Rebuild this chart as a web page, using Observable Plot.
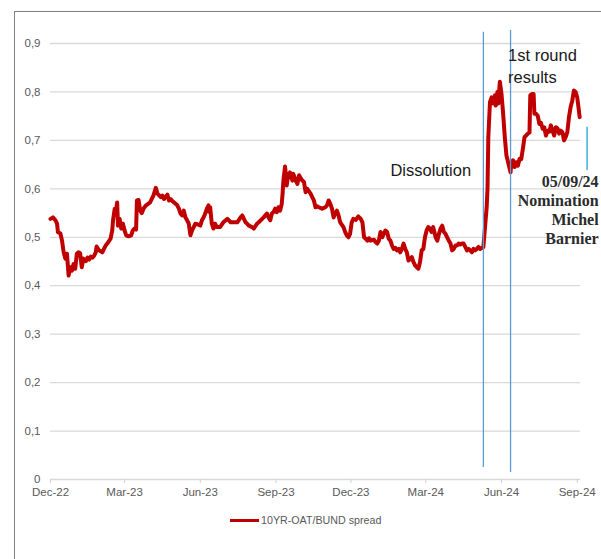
<!DOCTYPE html>
<html>
<head>
<meta charset="utf-8">
<script src="https://cdn.jsdelivr.net/npm/d3@7"></script>
<script src="https://cdn.jsdelivr.net/npm/@observablehq/plot@0.6"></script>
<style>
  html, body { margin: 0; padding: 0; background: #fff; }
  #wrap { position: relative; width: 601px; height: 559px; overflow: hidden; font-family: "Liberation Sans", Arial, sans-serif; }
  #frame { position: absolute; left: 14px; top: 11px; width: 700px; height: 700px; border-top: 1.5px solid #808080; border-left: 1.5px solid #808080; }
  #chart { position: absolute; left: 0; top: 0; }
  #legend { position: absolute; left: 230px; top: 514px; display: flex; align-items: center; font-size: 10.7px; color: #595959; }
  #legend .sw { width: 29px; height: 3px; background: #C00000; margin-right: 2px; }
</style>
</head>
<body>
<div id="wrap">
  <div id="frame"></div>
  <div id="chart"></div>
  <div id="legend"><span class="sw"></span><span>10YR-OAT/BUND spread</span></div>
</div>
<script>
// Series: days since 2022-12-01 and 10Y OAT/Bund spread (pp)
const startDate = "2022-12-01";
const days = [0,3,6,8,9,12,14,16,18,20,22,24,26,28,30,32,34,36,38,40,43,45,47,49,51,53,55,56,59,63,65,67,69,71,73,75,76,78,79,81,82,84,86,88,90,92,95,98,100,102,104,105,107,109,111,113,115,117,121,125,128,130,134,136,138,142,144,146,148,152,154,156,158,160,162,164,166,168,170,172,174,176,180,182,184,186,188,190,192,193,194,196,198,200,202,206,210,215,219,223,227,231,233,237,239,241,245,247,251,253,259,263,265,267,269,271,273,275,277,279,281,282,283,285,286,287,289,290,291,294,295,298,300,302,304,306,308,310,312,316,318,320,322,324,326,330,334,336,338,340,342,344,346,348,350,352,356,358,360,362,364,366,368,371,374,377,379,381,383,385,387,389,393,395,397,399,401,403,405,407,409,411,413,415,417,419,421,423,425,427,429,431,433,435,437,439,441,443,445,447,449,451,453,455,457,459,461,463,465,468,470,472,474,476,478,480,482,484,486,488,490,492,494,496,498,500,502,504,506,508,510,512,514,516,518,520,522,524,526,528,530,531,532,534,536,538,540,541,543,544,546,548,550,552,554,555,557,559,560,562,564,566,568,570,572,574,576,578,580,582,583,585,587,588,590,592,594,596,598,600,602,604,606,608,610,612,614,616,618,620,622,624,626,628,630,632,634,636,638,640,642,643];
const spread = [0.538,0.541,0.535,0.528,0.511,0.508,0.493,0.469,0.456,0.466,0.421,0.438,0.431,0.445,0.435,0.466,0.469,0.467,0.438,0.456,0.451,0.458,0.454,0.460,0.458,0.462,0.469,0.481,0.473,0.469,0.476,0.483,0.487,0.492,0.497,0.514,0.535,0.559,0.549,0.572,0.524,0.538,0.518,0.528,0.514,0.504,0.502,0.504,0.514,0.518,0.516,0.576,0.577,0.555,0.550,0.559,0.564,0.567,0.572,0.586,0.602,0.590,0.583,0.586,0.579,0.588,0.576,0.579,0.575,0.569,0.566,0.559,0.549,0.545,0.555,0.541,0.535,0.528,0.504,0.514,0.521,0.528,0.526,0.524,0.535,0.541,0.549,0.559,0.566,0.552,0.562,0.528,0.518,0.528,0.521,0.521,0.531,0.538,0.531,0.531,0.531,0.541,0.545,0.531,0.528,0.524,0.521,0.518,0.528,0.531,0.541,0.549,0.541,0.535,0.549,0.552,0.559,0.552,0.562,0.555,0.569,0.590,0.617,0.646,0.628,0.607,0.631,0.624,0.634,0.617,0.631,0.617,0.610,0.628,0.622,0.617,0.614,0.593,0.600,0.590,0.583,0.576,0.562,0.564,0.562,0.559,0.562,0.566,0.576,0.569,0.559,0.541,0.549,0.555,0.545,0.531,0.521,0.511,0.504,0.500,0.507,0.531,0.538,0.536,0.543,0.538,0.531,0.500,0.497,0.493,0.498,0.493,0.495,0.490,0.487,0.493,0.511,0.500,0.507,0.514,0.511,0.497,0.493,0.483,0.476,0.478,0.473,0.476,0.469,0.476,0.487,0.476,0.469,0.452,0.455,0.459,0.449,0.442,0.438,0.435,0.449,0.473,0.476,0.500,0.514,0.521,0.518,0.511,0.521,0.500,0.493,0.507,0.518,0.524,0.511,0.507,0.500,0.493,0.487,0.473,0.476,0.483,0.483,0.487,0.485,0.487,0.487,0.480,0.473,0.476,0.473,0.469,0.476,0.473,0.476,0.480,0.476,0.478,0.480,0.521,0.562,0.600,0.707,0.779,0.789,0.776,0.793,0.772,0.800,0.776,0.821,0.796,0.755,0.707,0.669,0.662,0.648,0.634,0.655,0.659,0.645,0.655,0.648,0.662,0.661,0.683,0.707,0.710,0.714,0.716,0.793,0.796,0.796,0.755,0.755,0.751,0.734,0.736,0.724,0.727,0.710,0.720,0.718,0.731,0.720,0.710,0.727,0.725,0.714,0.720,0.717,0.700,0.707,0.717,0.748,0.769,0.782,0.803,0.800,0.789,0.762,0.748];

// Axes
const yTicks = [0, 0.1, 0.2, 0.3, 0.4, 0.5, 0.6, 0.7, 0.8, 0.9];
const yTickLabels = ["0", "0,1", "0,2", "0,3", "0,4", "0,5", "0,6", "0,7", "0,8", "0,9"];
const xTicks = ["2022-12-01", "2023-03-01", "2023-06-01", "2023-09-01", "2023-12-01", "2024-03-01", "2024-06-01", "2024-09-01"];
const xTickLabels = ["Dec-22", "Mar-23", "Jun-23", "Sep-23", "Dec-23", "Mar-24", "Jun-24", "Sep-24"];
const xDomain = ["2022-12-01", "2024-09-05"];

// Event markers (vertical lines) — day offset, low, high
const eventDays = [526, 559, 652];
const eventLow = [0.025, 0.0145, 0.638];
const eventHigh = [0.923, 0.927, 0.727];
const eventColors = ["#5B9BD5", "#5B9BD5", "#1FA2E0"];

// Annotations
const sansLabels = ["Dissolution", "1st round", "results"];
const sansDays = [413, 556, 556];
const sansValues = [0.638, 0.875, 0.830];
const serifLabels = ["05/09/24", "Nomination", "Michel", "Barnier"];
const serifDay = 666;
const serifValues = [0.615, 0.576, 0.535, 0.496];

const t0 = new Date(startDate);
const toDate = d => d3.utcDay.offset(t0, d);
const data = days.map((d, i) => ({date: toDate(d), value: spread[i]}));
const events = eventDays.map((d, i) => ({date: toDate(d), y1: eventLow[i], y2: eventHigh[i], color: eventColors[i]}));
const sansText = sansLabels.map((t, i) => ({text: t, date: toDate(sansDays[i]), value: sansValues[i]}));
const serifText = serifLabels.map((t, i) => ({text: t, date: toDate(serifDay), value: serifValues[i]}));
const xTickDates = xTicks.map(s => new Date(s));

const chart = Plot.plot({
  width: 601,
  height: 505,
  marginLeft: 50,
  marginRight: 21,
  marginTop: 43,
  marginBottom: 26,
  style: {fontFamily: "Liberation Sans, Arial, sans-serif", background: "transparent", overflow: "visible"},
  x: {type: "utc", domain: xDomain.map(s => new Date(s))},
  y: {domain: [0, 0.9]},
  marks: [
    Plot.ruleY(yTicks, {stroke: "#d9d9d9", strokeWidth: 1.3}),
    Plot.axisY({ticks: yTicks, tickFormat: (d, i) => yTickLabels[i], tickSize: 0, tickPadding: 10, fontSize: 11.5, color: "#595959", label: null}),
    Plot.axisX({ticks: xTickDates, tickFormat: (d, i) => xTickLabels[i], tickSize: 4, tickPadding: 4, fontSize: 11.5, color: "#595959", stroke: "#d0d0d0", label: null}),
    Plot.line(data, {x: "date", y: "value", stroke: "#C00000", strokeWidth: 4, strokeLinejoin: "round", strokeLinecap: "round"}),
    Plot.ruleX(events, {x: "date", y1: "y1", y2: "y2", stroke: "color", strokeWidth: 1.3}),
    Plot.text(sansText, {x: "date", y: "value", text: "text", textAnchor: "start", lineAnchor: "middle", fontSize: 16.5, fill: "#1a1a1a"}),
    Plot.text(serifText, {x: "date", y: "value", text: "text", textAnchor: "end", lineAnchor: "middle", fontSize: 16, fontWeight: "bold", fontFamily: "Liberation Serif, serif", fill: "#2b2b2b"})
  ]
});
document.getElementById("chart").appendChild(chart);
</script>
</body>
</html>
